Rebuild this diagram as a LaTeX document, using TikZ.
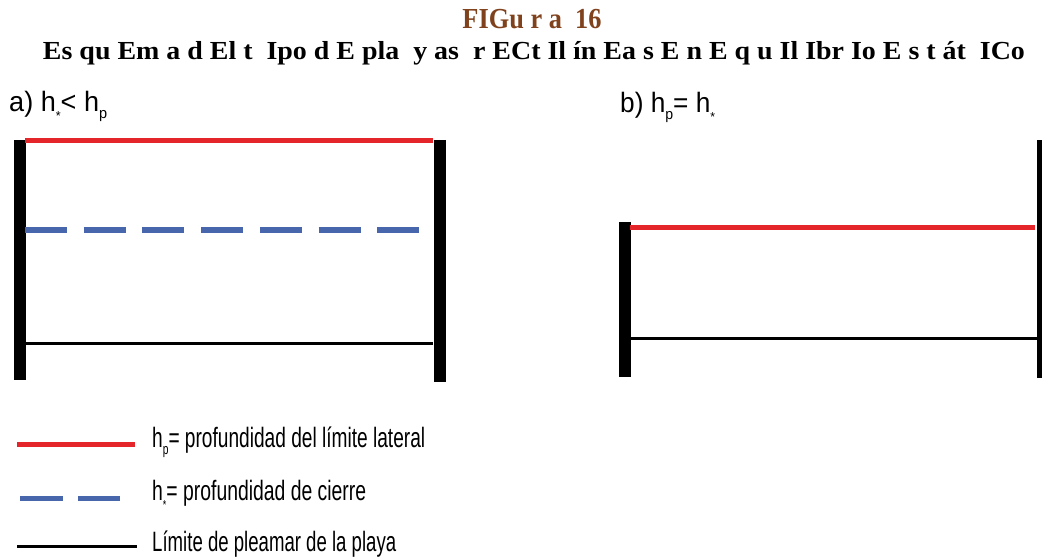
\documentclass[tikz,border=0pt]{standalone}
\usepackage{fontspec}
\usepackage{graphicx}
\setmainfont{Liberation Sans}
\newfontfamily\titlefont{Liberation Serif}
\definecolor{limred}{RGB}{228,38,42}
\definecolor{cierreblue}{RGB}{72,102,172}
\definecolor{titlebrown}{RGB}{128,66,28}
\newcommand\subp{\raisebox{-7pt}{\fontsize{15}{15}\selectfont p}}
\newcommand\substar{\raisebox{-9pt}{\fontsize{13}{13}\selectfont *}}
\newcommand\labtext[2]{\resizebox{#1}{\height}{\fontsize{28}{28}\selectfont #2}}
\begin{document}
\begin{tikzpicture}[x=1pt,y=-1pt,
  wall/.style={line width=12pt,black},
  redline/.style={line width=5pt,limred},
  blueline/.style={line width=5.5pt,cierreblue,dash pattern=on 42pt off 16.7pt},
  blackline/.style={line width=3pt,black},
  lab/.style={inner sep=0pt,anchor=base west},
  ttl/.style={inner sep=0pt,anchor=base}]
\useasboundingbox (0,0) rectangle (1042,558);
% titles
\node[ttl,text=titlebrown] (t1) at (532,28) {\resizebox{139pt}{\height}{\titlefont\bfseries\fontsize{29}{29}\selectfont FIGu r a\ \ 16}};
\node[ttl] (t2) at (534,59) {\resizebox{982pt}{\height}{\titlefont\bfseries\fontsize{26}{26}\selectfont Es qu Em a d El t\ \ Ipo d E pla\ \ y as\ \ r ECt Il ín Ea s E n E q u Il Ibr Io E s t át\ \ ICo}};
% panel labels
\node[lab] (la) at (9,111) {\labtext{98pt}{a) h\substar< h\subp}};
\node[lab] (lb) at (620,112) {\labtext{95pt}{b) h\subp= h\substar}};
% panel a
\draw[wall] (20,140) -- (20,380);
\draw[wall] (439.5,140) -- (439.5,382);
\draw[redline] (25,140) -- (433,140);
\draw[blueline] (25,230) -- (420,230);
\draw[blackline] (26,343) -- (433,343);
% panel b
\draw[wall] (624.5,222) -- (624.5,377);
\draw[wall] (1043,140) -- (1043,378);
\draw[redline] (630,227) -- (1035,227);
\draw[blackline] (630,338) -- (1037,338);
% legend
\draw[redline] (17,444) -- (135,444);
\draw[line width=5pt,cierreblue] (20,498) -- (63,498);
\draw[line width=5pt,cierreblue] (78,498) -- (120,498);
\draw[blackline] (17,546) -- (137,546);
\node[lab] (l1) at (152,447) {\labtext{273pt}{h\subp= profundidad del límite lateral}};
\node[lab] (l2) at (152,500) {\labtext{214pt}{h\substar= profundidad de cierre}};
\node[lab] (l3) at (152,551) {\labtext{244pt}{Límite de pleamar de la playa}};
\end{tikzpicture}
\end{document}
